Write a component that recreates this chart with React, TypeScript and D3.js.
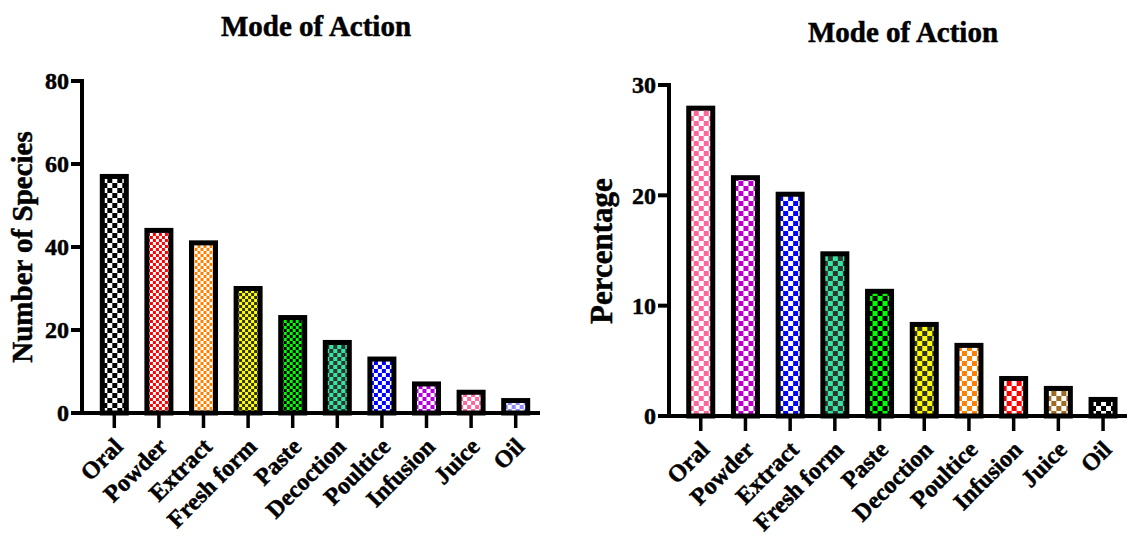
import React from 'react';
import * as d3 from 'd3';

const categories = ['Oral', 'Powder', 'Extract', 'Fresh form', 'Paste', 'Decoction', 'Poultice', 'Infusion', 'Juice', 'Oil'];

const speciesCounts = [57, 44, 41, 30, 23, 17, 13, 7, 5, 3];
const percentages = [27.9, 21.6, 20.1, 14.7, 11.3, 8.3, 6.4, 3.4, 2.5, 1.5];

const speciesTicks = [0, 20, 40, 60, 80];
const percentTicks = [0, 10, 20, 30];

// checker colours: [colour, background, square size]
const speciesFills: [string, string, number][] = [
  ['#000000', '#ffffff', 5],
  ['#ff0000', '#ffffff', 3],
  ['#ff8000', '#ffffff', 3],
  ['#ffff00', '#333333', 3],
  ['#00ff00', '#000000', 3],
  ['#33e6a0', '#333333', 4],
  ['#0000ff', '#ffffff', 4],
  ['#b400dc', '#ffffff', 4],
  ['#ff6699', '#ffffff', 4],
  ['#8c8cff', '#ffffff', 4],
];

const percentFills: [string, string, number][] = [
  ['#ff6699', '#ffffff', 5],
  ['#bb00cc', '#ffffff', 5],
  ['#0000ff', '#ffffff', 5],
  ['#33e6a0', '#333333', 5],
  ['#00ff00', '#000000', 5],
  ['#ffff00', '#333333', 5],
  ['#ff8000', '#ffffff', 5],
  ['#ff0000', '#ffffff', 5],
  ['#a06a20', '#ffffff', 5],
  ['#000000', '#ffffff', 5],
];

const FONT = '"Liberation Serif", "Times New Roman", serif';
// a thin outline makes the bold serif look as heavy as the original
const heavy = { fontFamily: FONT, fontWeight: 'bold' as const, stroke: '#000', strokeWidth: 0.5 };

interface ChartProps {
  id: string;
  values: number[];
  ticks: number[];
  fills: [string, string, number][];
  axisX: number;
  bottom: number;
  top: number;
  xEnd: number;
  bandStart: number;
  bandEnd: number;
  title: string;
  titleX: number;
  titleY: number;
  yLabel: string;
  yLabelX: number;
  yLabelY: number;
  yLabelSize: number;
}

function BarChart(p: ChartProps) {
  const maxTick = p.ticks[p.ticks.length - 1];
  const y = d3.scaleLinear().domain([0, maxTick]).range([p.bottom, p.top]);
  const x = d3.scaleBand<string>().domain(categories).range([p.bandStart, p.bandEnd]).paddingInner(0.46).paddingOuter(0.23);
  const bw = 24;

  return (
    <g>
      <defs>
        {p.fills.map(([c, bg, s], i) => (
          <pattern key={i} id={`${p.id}-pat-${i}`} patternUnits="userSpaceOnUse" width={s * 2} height={s * 2}
            x={(x(categories[i]) || 0) + x.bandwidth() / 2 - bw / 2} y={p.bottom}>
            <rect width={s * 2} height={s * 2} fill={bg} />
            <rect width={s} height={s} fill={c} />
            <rect x={s} y={s} width={s} height={s} fill={c} />
          </pattern>
        ))}
      </defs>

      <text x={p.titleX} y={p.titleY} textAnchor="middle" fontSize={29} {...heavy}>{p.title}</text>

      <text transform={`translate(${p.yLabelX},${p.yLabelY}) rotate(-90)`} textAnchor="middle"
        fontSize={p.yLabelSize} {...heavy}>{p.yLabel}</text>

      {p.values.map((v, i) => {
        const cx = (x(categories[i]) || 0) + x.bandwidth() / 2;
        return (
          <rect key={i} x={cx - bw / 2} y={y(v)} width={bw} height={p.bottom - y(v)}
            fill={`url(#${p.id}-pat-${i})`} stroke="#000" strokeWidth={5} />
        );
      })}

      {/* y axis */}
      <line x1={p.axisX} x2={p.axisX} y1={p.top - 2} y2={p.bottom + 2} stroke="#000" strokeWidth={4} />
      {p.ticks.map(t => (
        <g key={t}>
          <line x1={p.axisX - 11} x2={p.axisX} y1={y(t)} y2={y(t)} stroke="#000" strokeWidth={4} />
          <text x={p.axisX - 13} y={y(t)} dy="0.35em" textAnchor="end" fontSize={24} {...heavy}>{t}</text>
        </g>
      ))}

      {/* x axis */}
      <line x1={p.axisX - 2} x2={p.xEnd} y1={p.bottom} y2={p.bottom} stroke="#000" strokeWidth={4} />
      {categories.map(c => {
        const cx = (x(c) || 0) + x.bandwidth() / 2;
        return (
          <g key={c}>
            <line x1={cx} x2={cx} y1={p.bottom} y2={p.bottom + 15} stroke="#000" strokeWidth={3.5} />
            <text transform={`translate(${cx + 10},${p.bottom + 35}) rotate(-45)`} textAnchor="end"
              fontSize={24} {...heavy}>{c}</text>
          </g>
        );
      })}
    </g>
  );
}

export default function App() {
  return (
    <div style={{ position: 'absolute', left: 0, top: 0 }}>
      <svg width={1128} height={536} style={{ display: 'block', background: '#fff' }}>
        <BarChart id="sp" values={speciesCounts} ticks={speciesTicks} fills={speciesFills}
          axisX={82} bottom={413} top={81} xEnd={540} bandStart={92} bandEnd={538}
          title="Mode of Action" titleX={316} titleY={36}
          yLabel="Number of Species" yLabelX={32} yLabelY={247} yLabelSize={29} />
        <BarChart id="pc" values={percentages} ticks={percentTicks} fills={percentFills}
          axisX={669} bottom={416} top={85} xEnd={1127} bandStart={678.4} bandEnd={1125.4}
          title="Mode of Action" titleX={903} titleY={42}
          yLabel="Percentage" yLabelX={612} yLabelY={251} yLabelSize={31} />
      </svg>
    </div>
  );
}
